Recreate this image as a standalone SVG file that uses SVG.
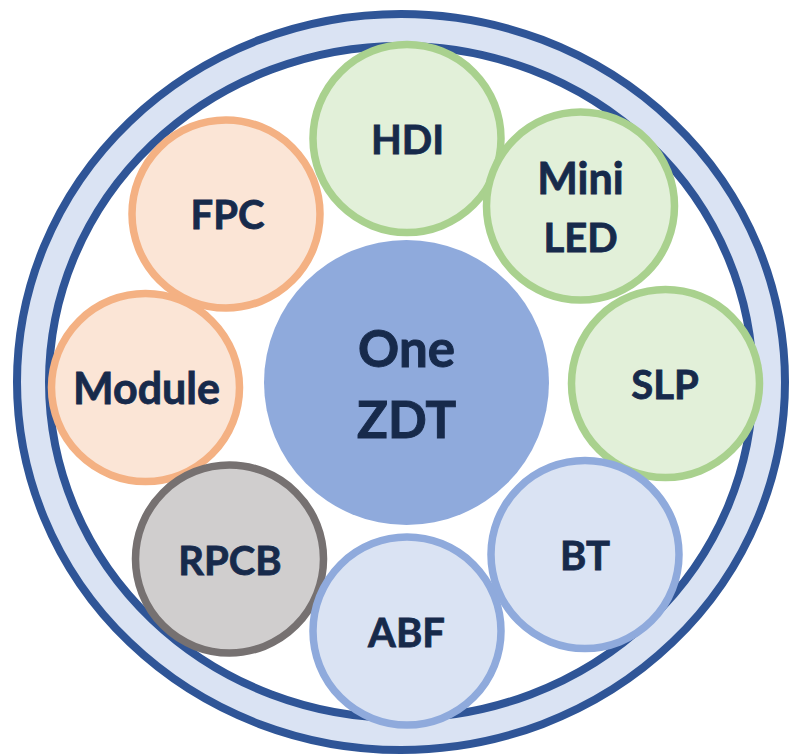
<svg xmlns="http://www.w3.org/2000/svg" width="789" height="755" viewBox="0 0 789 755">
<style>
  .lbl { font-family: Lato, "Open Sans", "Liberation Sans", sans-serif; font-weight: 700; fill: #172A4B; stroke: #172A4B; stroke-width: 0.8; text-anchor: middle; }
  .node { font-size: 40px; }
  .wide { font-size: 43px; }
  .core { font-size: 51px; stroke-width: 1; }
  .green { fill: #E2F0D9; stroke: #A9D18E; stroke-width: 7.5; }
  .orange { fill: #FBE5D6; stroke: #F4B183; stroke-width: 7.5; }
  .gray { fill: #D0CECE; stroke: #767171; stroke-width: 7.5; }
  .blue { fill: #DAE3F3; stroke: #8FAADC; stroke-width: 7.5; }
  .ring { stroke: #2F5597; stroke-width: 8; }
</style>
<rect width="789" height="755" fill="#FFFFFF"/>
<g id="ring">
  <ellipse class="ring" cx="401" cy="382" rx="384" ry="368" fill="#DAE3F3"/>
  <ellipse class="ring" cx="401" cy="382" rx="352" ry="336" fill="#FFFFFF"/>
</g>
<g id="connectors"></g>
<g id="core">
  <circle cx="406.5" cy="382.5" r="142.5" fill="#8FAADC"/>
  <text class="lbl core" x="406.5" y="367">One</text>
  <text class="lbl core" x="406.5" y="438">ZDT</text>
</g>
<g id="hdi">
  <circle class="green" cx="407" cy="138.5" r="94"/>
  <text class="lbl node" x="407.5" y="154">HDI</text>
</g>
<g id="miniled">
  <circle class="green" cx="580.5" cy="206" r="94"/>
  <text class="lbl wide" x="580.5" y="194">Mini</text>
  <text class="lbl node" x="580.5" y="252">LED</text>
</g>
<g id="slp">
  <circle class="green" cx="665.5" cy="383.5" r="94"/>
  <text class="lbl node" x="665" y="399">SLP</text>
</g>
<g id="fpc">
  <circle class="orange" cx="226" cy="214" r="94"/>
  <text class="lbl node" x="227.5" y="229">FPC</text>
</g>
<g id="module">
  <circle class="orange" cx="145.5" cy="387.5" r="94"/>
  <text class="lbl wide" x="146.5" y="404">Module</text>
</g>
<g id="rpcb">
  <circle class="gray" cx="229.5" cy="559" r="94"/>
  <text class="lbl node" x="230" y="575">RPCB</text>
</g>
<g id="abf">
  <circle class="blue" cx="407" cy="631" r="94"/>
  <text class="lbl node" x="406.5" y="647">ABF</text>
</g>
<g id="bt">
  <circle class="blue" cx="585" cy="554.5" r="94"/>
  <text class="lbl node" x="585" y="570">BT</text>
</g>
</svg>
